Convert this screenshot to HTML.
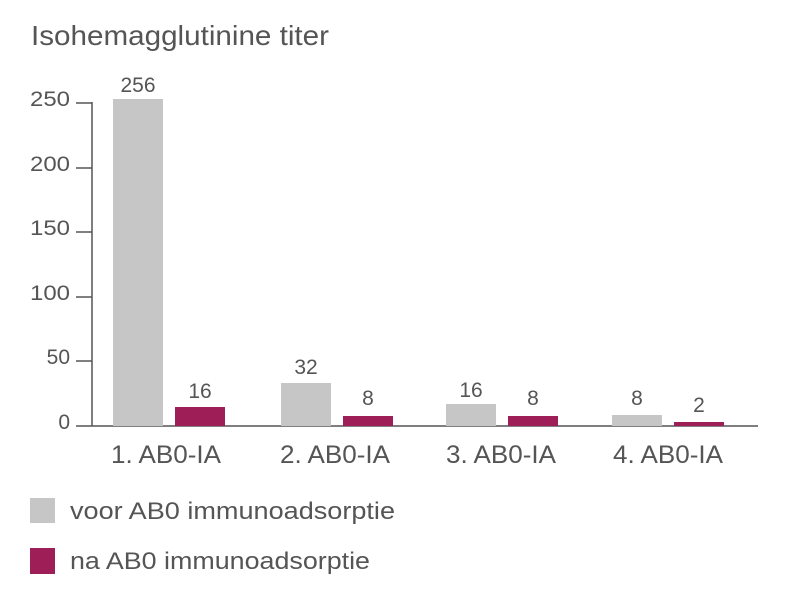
<!DOCTYPE html>
<html><head><style>
html,body{margin:0;padding:0;background:#fff;}
svg{display:block;}
text{font-family:"Liberation Sans",sans-serif;fill:#555;}
</style></head><body>
<svg width="787" height="596" viewBox="0 0 787 596">
<text x="31" y="45" font-size="28" fill="#666" textLength="298" lengthAdjust="spacingAndGlyphs">Isohemagglutinine titer</text>
<g stroke="#555" stroke-width="1.5">
<line x1="92" y1="102" x2="92" y2="426"/>
<line x1="76" y1="426" x2="758" y2="426"/>
<line x1="76" y1="103" x2="92" y2="103"/>
<line x1="76" y1="168" x2="92" y2="168"/>
<line x1="76" y1="232" x2="92" y2="232"/>
<line x1="76" y1="297" x2="92" y2="297"/>
<line x1="76" y1="361" x2="92" y2="361"/>
</g>
<g font-size="21" text-anchor="end">
<text x="70" y="106" textLength="40" lengthAdjust="spacingAndGlyphs">250</text>
<text x="70" y="171" textLength="40" lengthAdjust="spacingAndGlyphs">200</text>
<text x="70" y="235" textLength="40" lengthAdjust="spacingAndGlyphs">150</text>
<text x="70" y="300" textLength="40" lengthAdjust="spacingAndGlyphs">100</text>
<text x="70" y="364">50</text>
<text x="70" y="429">0</text>
</g>
<g fill="#c6c6c6">
<rect x="113" y="99" width="50" height="327"/>
<rect x="281" y="383" width="50" height="43"/>
<rect x="446" y="404" width="50" height="22"/>
<rect x="612" y="415" width="50" height="11"/>
</g>
<g fill="#9e1f58">
<rect x="175" y="407" width="50" height="19"/>
<rect x="343" y="416" width="50" height="10"/>
<rect x="508" y="416" width="50" height="10"/>
<rect x="674" y="422" width="50" height="4"/>
</g>
<g font-size="21" text-anchor="middle">
<text x="138" y="92">256</text>
<text x="200" y="398">16</text>
<text x="306" y="374">32</text>
<text x="368" y="405">8</text>
<text x="471" y="397">16</text>
<text x="533" y="405">8</text>
<text x="637" y="405">8</text>
<text x="699" y="412">2</text>
</g>
<g font-size="25" text-anchor="middle">
<text x="166" y="463" textLength="110" lengthAdjust="spacingAndGlyphs">1. AB0-IA</text>
<text x="335" y="463" textLength="110" lengthAdjust="spacingAndGlyphs">2. AB0-IA</text>
<text x="501" y="463" textLength="110" lengthAdjust="spacingAndGlyphs">3. AB0-IA</text>
<text x="668" y="463" textLength="110" lengthAdjust="spacingAndGlyphs">4. AB0-IA</text>
</g>
<rect x="30" y="498" width="25" height="25" fill="#c6c6c6"/>
<rect x="30" y="548" width="25" height="26" fill="#9e1f58"/>
<text x="70" y="519" font-size="24" textLength="325" lengthAdjust="spacingAndGlyphs">voor AB0 immunoadsorptie</text>
<text x="70" y="569" font-size="24" textLength="300" lengthAdjust="spacingAndGlyphs">na AB0 immunoadsorptie</text>
</svg>
</body></html>
